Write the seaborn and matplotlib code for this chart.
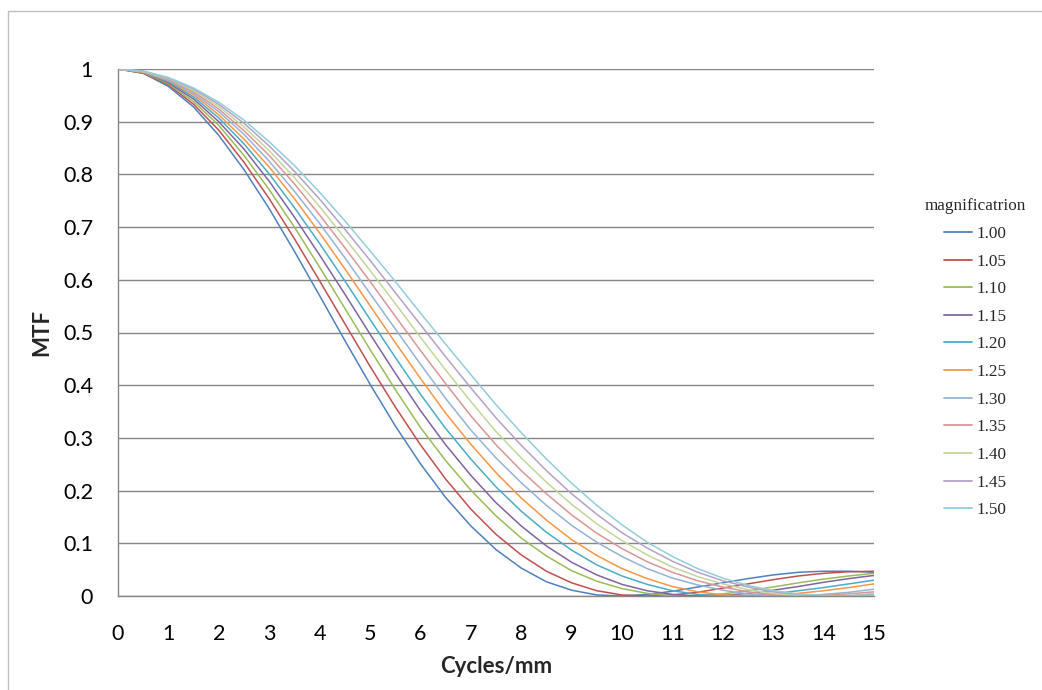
import numpy as np
import pandas as pd
import matplotlib
matplotlib.use("Agg")
import matplotlib.pyplot as plt
import seaborn as sns

# x values (cycles/mm)
cycles = [0.0, 0.5, 1.0, 1.5, 2.0, 2.5, 3.0, 3.5, 4.0, 4.5, 5.0, 5.5, 6.0, 6.5, 7.0, 7.5,
          8.0, 8.5, 9.0, 9.5, 10.0, 10.5, 11.0, 11.5, 12.0, 12.5, 13.0, 13.5, 14.0, 14.5, 15.0]

# MTF values, one list per magnification
mtf_100 = [1.000, 0.992, 0.967, 0.928, 0.874, 0.809, 0.735, 0.654, 0.570, 0.485, 0.402, 0.323, 0.251, 0.187, 0.133, 0.088,
           0.053, 0.027, 0.011, 0.002, 0.000, 0.003, 0.009, 0.017, 0.025, 0.033, 0.040, 0.045, 0.047, 0.047, 0.045]
mtf_105 = [1.000, 0.992, 0.970, 0.933, 0.884, 0.823, 0.754, 0.678, 0.598, 0.517, 0.436, 0.359, 0.287, 0.222, 0.165, 0.117,
           0.078, 0.047, 0.025, 0.010, 0.002, 0.000, 0.002, 0.007, 0.015, 0.023, 0.031, 0.038, 0.043, 0.046, 0.047]
mtf_110 = [1.000, 0.993, 0.972, 0.938, 0.893, 0.836, 0.771, 0.700, 0.624, 0.546, 0.468, 0.392, 0.320, 0.257, 0.201, 0.152,
           0.110, 0.076, 0.048, 0.028, 0.014, 0.005, 0.000, 0.001, 0.004, 0.010, 0.017, 0.025, 0.032, 0.038, 0.043]
mtf_115 = [1.000, 0.994, 0.974, 0.943, 0.900, 0.848, 0.787, 0.719, 0.647, 0.573, 0.497, 0.423, 0.352, 0.287, 0.229, 0.177,
           0.133, 0.095, 0.064, 0.040, 0.022, 0.010, 0.003, 0.000, 0.001, 0.005, 0.011, 0.018, 0.026, 0.033, 0.039]
mtf_120 = [1.000, 0.994, 0.976, 0.947, 0.907, 0.858, 0.801, 0.737, 0.669, 0.598, 0.525, 0.453, 0.383, 0.318, 0.260, 0.207,
           0.161, 0.121, 0.087, 0.059, 0.038, 0.022, 0.010, 0.003, 0.000, 0.001, 0.004, 0.010, 0.016, 0.023, 0.030]
mtf_125 = [1.000, 0.994, 0.978, 0.951, 0.913, 0.867, 0.814, 0.754, 0.689, 0.621, 0.551, 0.481, 0.413, 0.347, 0.288, 0.234,
           0.186, 0.144, 0.107, 0.077, 0.052, 0.033, 0.018, 0.008, 0.002, 0.000, 0.001, 0.005, 0.010, 0.016, 0.023]
mtf_130 = [1.000, 0.995, 0.979, 0.954, 0.919, 0.876, 0.825, 0.768, 0.707, 0.642, 0.574, 0.507, 0.440, 0.375, 0.315, 0.262,
           0.215, 0.172, 0.134, 0.102, 0.075, 0.052, 0.034, 0.021, 0.011, 0.004, 0.000, 0.000, 0.003, 0.007, 0.013]
mtf_135 = [1.000, 0.995, 0.981, 0.957, 0.924, 0.883, 0.836, 0.782, 0.723, 0.661, 0.597, 0.531, 0.466, 0.403, 0.342, 0.287,
           0.238, 0.194, 0.154, 0.119, 0.090, 0.065, 0.045, 0.029, 0.017, 0.008, 0.002, 0.000, 0.001, 0.004, 0.008]
mtf_140 = [1.000, 0.995, 0.982, 0.959, 0.929, 0.890, 0.845, 0.794, 0.739, 0.679, 0.618, 0.555, 0.491, 0.429, 0.369, 0.312,
           0.262, 0.216, 0.174, 0.137, 0.105, 0.078, 0.055, 0.037, 0.023, 0.012, 0.005, 0.001, 0.000, 0.001, 0.005]
mtf_145 = [1.000, 0.996, 0.983, 0.962, 0.933, 0.897, 0.854, 0.806, 0.753, 0.696, 0.637, 0.576, 0.515, 0.454, 0.395, 0.338,
           0.286, 0.238, 0.194, 0.155, 0.120, 0.091, 0.066, 0.045, 0.029, 0.017, 0.008, 0.003, 0.000, 0.000, 0.003]
mtf_150 = [1.000, 0.996, 0.984, 0.964, 0.937, 0.903, 0.862, 0.817, 0.766, 0.712, 0.655, 0.597, 0.537, 0.478, 0.420, 0.363,
           0.310, 0.260, 0.214, 0.172, 0.135, 0.102, 0.075, 0.052, 0.034, 0.020, 0.010, 0.004, 0.001, 0.000, 0.002]

labels = ["1.00", "1.05", "1.10", "1.15", "1.20", "1.25", "1.30", "1.35", "1.40", "1.45", "1.50"]
series = [mtf_100, mtf_105, mtf_110, mtf_115, mtf_120, mtf_125, mtf_130, mtf_135, mtf_140, mtf_145, mtf_150]
ytick_labels = ["0", "0.1", "0.2", "0.3", "0.4", "0.5", "0.6", "0.7", "0.8", "0.9", "1"]

colors = ["#4F81BD", "#C0504D", "#9BBB59", "#8064A2", "#4BACC6", "#F79646",
          "#95B3D7", "#D99694", "#C3D69B", "#B3A2C7", "#93CDDD"]

sns.set_style("white")
plt.rcParams['font.family'] = ['Lato', 'DejaVu Sans']

rows = []
for lab, vals in zip(labels, series):
    for xi, v in zip(cycles, vals):
        rows.append((xi, v, lab))
df = pd.DataFrame(rows, columns=["cycles", "mtf", "mag"])

fig = plt.figure(figsize=(10.42, 6.90), dpi=100)
ax = fig.add_axes([118/1042, 1-596/690, (874-118)/1042, (596-69)/690])
sns.lineplot(data=df, x="cycles", y="mtf", hue="mag", hue_order=labels, palette=colors,
             ax=ax, lw=1.1, sort=False)
ax.set_xlim(0, 15)
ax.set_ylim(0, 1)
ax.set_xticks(range(16))
ax.set_yticks(np.arange(0, 1.01, 0.1))
ax.set_yticklabels(ytick_labels)
ax.yaxis.grid(True, color="#868686", lw=1)
ax.xaxis.grid(False)
for s in ["top", "right"]:
    ax.spines[s].set_visible(False)
for s in ["left", "bottom"]:
    ax.spines[s].set_color("#868686")
    ax.spines[s].set_linewidth(1)
ax.tick_params(axis="both", direction="out", length=6, width=1, color="#868686",
               labelsize=15.5, labelcolor="black")
ax.tick_params(axis="y", pad=12)
ax.tick_params(axis="x", pad=14)
ax.set_xlabel("Cycles/mm", fontsize=16, fontweight="bold", labelpad=9)
ax.set_ylabel("MTF", fontsize=16, fontweight="bold", labelpad=8)

leg = ax.legend(title="magnificatrion", frameon=False, loc="upper left",
                bbox_to_anchor=(909/1042, 1-183/690), bbox_transform=fig.transFigure,
                prop={"family": "Liberation Serif", "size": 12.3}, labelspacing=0.68,
                handlelength=1.65, handletextpad=0.25)
leg.get_title().set_fontfamily("Liberation Serif")
leg.get_title().set_fontsize(12.3)
for h in leg.get_lines():
    h.set_linewidth(1.3)

fig.add_artist(plt.Line2D([8/1042, 8/1042, 1], [0, 1-11/690, 1-11/690],
                          transform=fig.transFigure, color="#BFBFBF", lw=1))
fig.savefig("out.png", dpi=100)
